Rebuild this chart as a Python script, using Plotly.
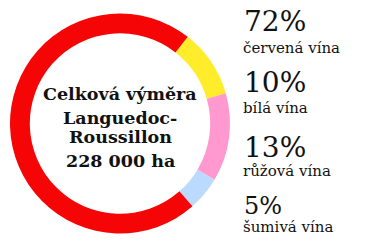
import plotly.graph_objects as go

labels = ["bílá vína", "růžová vína", "šumivá vína", "červená vína"]
values = [10, 13, 5, 72]
colors = ["#ffec2a", "#ff99cf", "#bcd9ff", "#f50505"]

legend_pct = ["72%", "10%", "13%", "5%"]
legend_lbl = ["červená vína", "bílá vína", "růžová vína", "šumivá vína"]
center_lines = ["Celková výměra", "Languedoc-", "Roussillon", "228 000 ha"]

W, H = 365, 247

def py(p):
    return 1 - p / H

fig = go.Figure(go.Pie(
    labels=labels, values=values, sort=False, direction="clockwise",
    rotation=38, hole=0.82, textinfo="none", hoverinfo="none",
    marker=dict(colors=colors, line=dict(width=0)),
    domain=dict(x=[10 / W, 230 / W], y=[py(234), py(13)]),
))

anns = []
center_y = [94, 118, 137, 161]
for t, y in zip(center_lines, center_y):
    anns.append(dict(text="<b>" + t + "</b>", x=120 / W, y=py(y),
                     xref="paper", yref="paper",
                     xanchor="center", yanchor="middle", showarrow=False,
                     font=dict(family="DejaVu Serif", size=17.5, color="#111")))

pct_y = [22, 83, 147, 206]
pct_size = [28, 28, 28, 24]
lbl_y = [48, 108, 171, 227]
for p, l, yp, yl, s in zip(legend_pct, legend_lbl, pct_y, lbl_y, pct_size):
    anns.append(dict(text=p, x=242 / W, y=py(yp), xref="paper", yref="paper",
                     xanchor="left", yanchor="middle", showarrow=False,
                     font=dict(family="DejaVu Serif", size=s, color="#111")))
    anns.append(dict(text=l, x=241 / W, y=py(yl), xref="paper", yref="paper",
                     xanchor="left", yanchor="middle", showarrow=False,
                     font=dict(family="DejaVu Serif", size=15, color="#111")))

fig.update_layout(width=W, height=H, margin=dict(l=0, r=0, t=0, b=0),
                  paper_bgcolor="white", plot_bgcolor="white",
                  showlegend=False, annotations=anns)
fig.write_html("out.html")
